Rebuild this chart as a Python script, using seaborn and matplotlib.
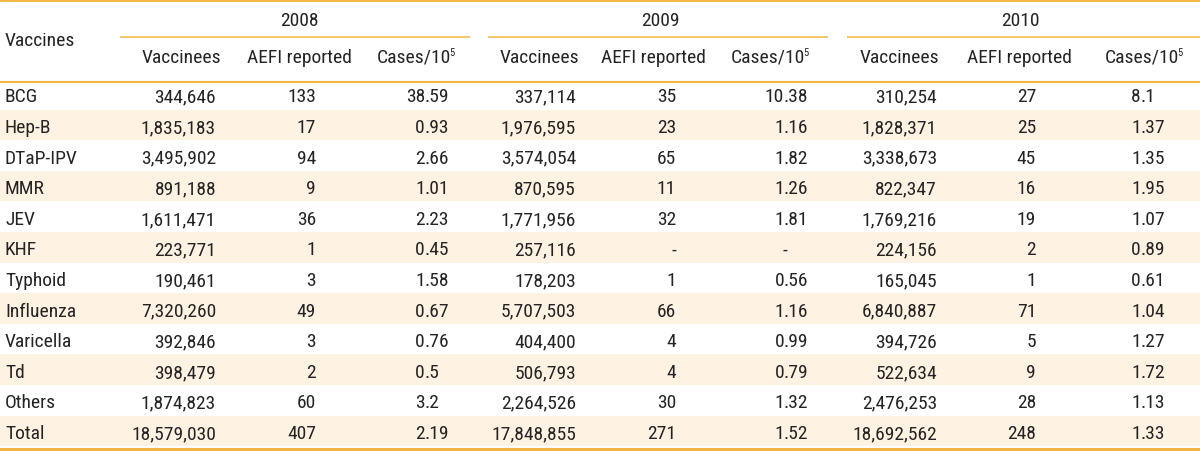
import matplotlib
matplotlib.use("Agg")
import matplotlib.pyplot as plt
from matplotlib import font_manager
import seaborn as sns

# ---------------- data ----------------
vaccines = ["BCG", "Hep-B", "DTaP-IPV", "MMR", "JEV", "KHF", "Typhoid",
            "Influenza", "Varicella", "Td", "Others", "Total"]
years = ["2008", "2009", "2010"]
sub_headers = ["Vaccinees", "AEFI reported", "Cases/10"]

vac2008 = [344646, 1835183, 3495902, 891188, 1611471, 223771, 190461,
           7320260, 392846, 398479, 1874823, 18579030]
aefi2008 = [133, 17, 94, 9, 36, 1, 3, 49, 3, 2, 60, 407]
cases2008 = [38.59, 0.93, 2.66, 1.01, 2.23, 0.45, 1.58, 0.67, 0.76, 0.5, 3.2, 2.19]

vac2009 = [337114, 1976595, 3574054, 870595, 1771956, 257116, 178203,
           5707503, 404400, 506793, 2264526, 17848855]
aefi2009 = [35, 23, 65, 11, 32, None, 1, 66, 4, 4, 30, 271]
cases2009 = [10.38, 1.16, 1.82, 1.26, 1.81, None, 0.56, 1.16, 0.99, 0.79, 1.32, 1.52]

vac2010 = [310254, 1828371, 3338673, 822347, 1769216, 224156, 165045,
           6840887, 394726, 522634, 2476253, 18692562]
aefi2010 = [27, 25, 45, 16, 19, 2, 1, 71, 5, 9, 28, 248]
cases2010 = [8.1, 1.37, 1.35, 1.95, 1.07, 0.89, 0.61, 1.04, 1.27, 1.72, 1.13, 1.33]

vaccinees = [vac2008, vac2009, vac2010]
aefi = [aefi2008, aefi2009, aefi2010]
cases = [cases2008, cases2009, cases2010]

# ---------------- style ----------------
sns.set_style("white")
names = {f.name for f in font_manager.fontManager.ttflist}
FONT = "Roboto Condensed" if "Roboto Condensed" in names else "Liberation Sans"
FS = 14.0
plt.rcParams["font.family"] = [FONT, "DejaVu Sans"]

LINE = "#F2B544"
BAND = "#FEF3E2"
TXT = "#252323"

W, H = 1200, 452
fig = plt.figure(figsize=(W / 100, H / 100), dpi=100)
ax = fig.add_axes([0, 0, 1, 1])
ax.set_xlim(0, W)
ax.set_ylim(H, 0)
ax.axis("off")

# layout (pixels)
row_top = 80.0
row_h = 30.6
cap = 7.2  # half cap height -> baseline offset
vac_right = [216, 576, 937]
aefi_right = [316, 676, 1036]
dot_x = [425, 784, 1141]
hdr_centers = [[181, 299, 416], [539, 653, 770], [899, 1019, 1144]]
year_centers = [299, 660, 1020]
year_lines = [(120, 470), (488, 828), (847, 1200)]

# row bands
for i in range(len(vaccines)):
    if i % 2 == 1:
        ax.axhspan(row_top + i * row_h, row_top + (i + 1) * row_h,
                   color=BAND, lw=0, zorder=0)

# rules
ax.axhline(1.2, color=LINE, lw=2.0, zorder=2)
ax.axhline(83, color=LINE, lw=1.5, zorder=2)
ax.axhline(449.5, color=LINE, lw=2.2, zorder=2)
for x0, x1 in year_lines:
    ax.plot([x0, x1], [37.5, 37.5], color=LINE, lw=1.1, solid_capstyle="butt", zorder=2)

kw = dict(fontsize=FS, color=TXT, va="baseline")

# headers
ax.text(5, 46, "Vaccines", ha="left", **kw)
for g in range(3):
    ax.text(year_centers[g], 26.5, years[g], ha="center", **kw)
    for k, h in enumerate(sub_headers):
        cx = hdr_centers[g][k]
        if k < 2:
            ax.text(cx, 63, h, ha="center", **kw)
        else:
            t = ax.text(0, 63, h, ha="left", **kw)
            s = ax.text(0, 56.5, "5", ha="left", fontsize=FS * 0.55, color=TXT, va="baseline")
            fig.canvas.draw()
            r = fig.canvas.get_renderer()
            w1 = t.get_window_extent(r).width
            w2 = s.get_window_extent(r).width
            start = cx - (w1 + w2 - 2) / 2
            t.set_x(start)
            s.set_x(start + w1 - 2)

# body
for i, name in enumerate(vaccines):
    yb = row_top + (i + 0.5) * row_h + cap
    ax.text(5, yb, name, ha="left", **kw)
    for g in range(3):
        ax.text(vac_right[g], yb, f"{vaccinees[g][i]:,}", ha="right", **kw)
        a = aefi[g][i]
        ax.text(aefi_right[g], yb, "-" if a is None else f"{a}", ha="right", **kw)
        c = cases[g][i]
        if c is None:
            ax.text(dot_x[g] + 1, yb, "-", ha="center", **kw)
        else:
            s = f"{c:g}"
            ip, fp = s.split(".")
            ax.text(dot_x[g], yb, ip, ha="right", **kw)
            ax.text(dot_x[g], yb, "." + fp, ha="left", **kw)

fig.savefig("out.png", dpi=100, facecolor="white")
